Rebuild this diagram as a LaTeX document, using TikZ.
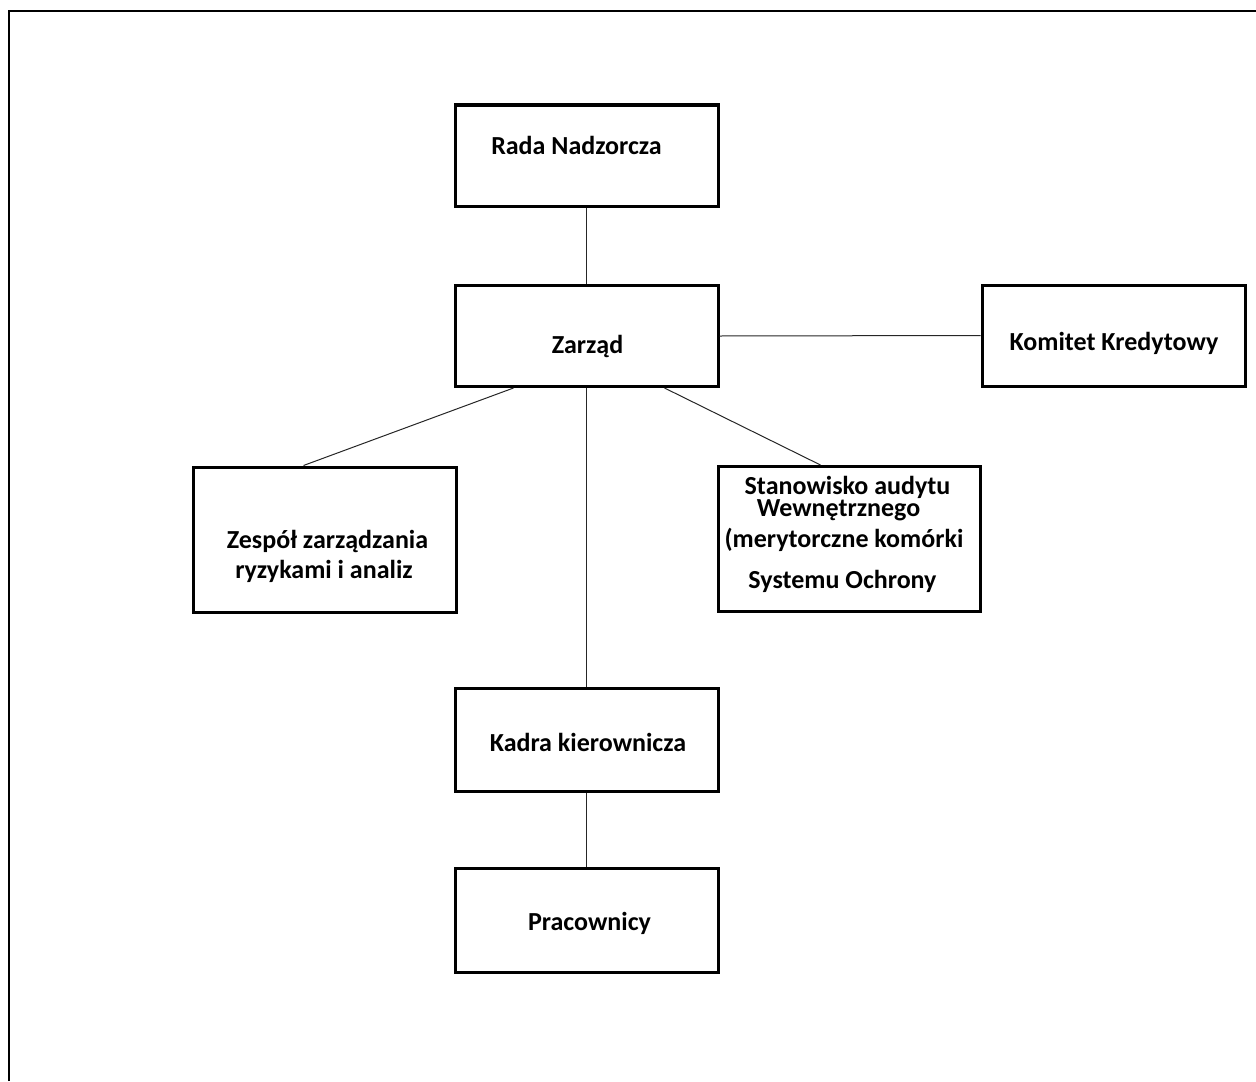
\documentclass[tikz,border=0pt]{standalone}
\usepackage{fontspec}
\setmainfont{Carlito}

\tikzset{
  box/.style={draw, rectangle, line width=1.5pt, inner sep=0pt,
    minimum width=131.5pt, minimum height=50.5pt},
  boxtxt/.style={anchor=base, inner sep=0pt,
    font=\fontsize{13}{15.6}\selectfont\bfseries},
  link/.style={line width=0.5pt, black!85}
}

\begin{document}
\begin{tikzpicture}[x=0.5pt, y=-0.5pt]
\useasboundingbox (0,0) rectangle (1256,1081);

% frame
\draw[line width=0.8pt] (9,1081) -- (9,11) -- (1256,11);

% boxes
\node[box] (rada) at (586.5, 155.5) {};
\node[box] (zarzad) at (586.5, 336) {};
\node[box] (komitet) at (1113.5, 335.5) {};
\node[box, minimum height=72.5pt] (zespol) at (324.5, 539.5) {};
\node[box, minimum width=131pt, minimum height=72.5pt] (audyt) at (849, 539) {};
\node[box, minimum height=51.5pt] (kadra) at (586.5, 739.5) {};
\node[box, minimum height=52pt] (prac) at (586.5, 920) {};

% texts
\node[boxtxt] (radaT) at (576.5, 154) {Rada Nadzorcza};
\node[boxtxt] (zarzadT) at (587.5, 353) {Zarząd};
\node[boxtxt] (komitetT) at (1114, 350) {Komitet Kredytowy};
\node[boxtxt] (zespolT) at (327.5, 548) {Zespół zarządzania};
\node[boxtxt] (zespolTT) at (324, 578) {ryzykami i analiz};
\node[boxtxt] (audytT) at (847.5, 494) {Stanowisko audytu};
\node[boxtxt] (audytTT) at (838.5, 516) {Wewnętrznego};
\node[boxtxt] (audytTTT) at (844, 547) {(merytorczne komórki};
\node[boxtxt] (audytTTTT) at (842.5, 588) {Systemu Ochrony};
\node[boxtxt] (kadraT) at (588, 751) {Kadra kierownicza};
\node[boxtxt] (pracT) at (589.5, 930) {Pracownicy};

% links
\draw[link] (rada.south) -- (zarzad.north);
\draw[link] (zarzad.east) -- (komitet.west);
\draw[link] ([xshift=30pt]zarzad.south west) -- ([xshift=56pt]zespol.north west);
\draw[link] (zarzad.south) -- (kadra.north);
\draw[link] ([xshift=-27.5pt]zarzad.south east) -- ([xshift=52pt]audyt.north west);
\draw[link] (kadra.south) -- (prac.north);

\end{tikzpicture}
\end{document}
